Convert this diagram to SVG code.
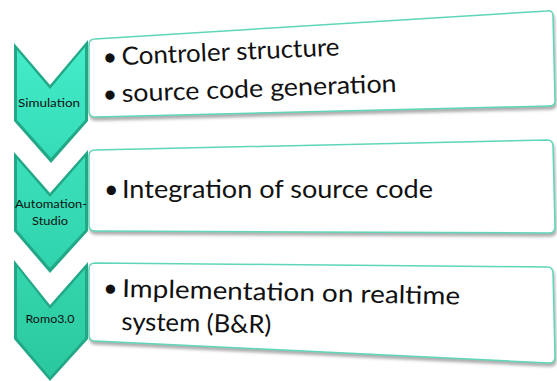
<svg xmlns="http://www.w3.org/2000/svg" width="557" height="381" viewBox="0 0 557 381">
<defs>
<filter id="sh" x="-5%" y="-10%" width="110%" height="130%">
<feDropShadow dx="1" dy="3" stdDeviation="1.5" flood-color="#777" flood-opacity="0.6"/>
</filter>
<linearGradient id="g1" x1="0" y1="0" x2="0" y2="1">
<stop offset="0" stop-color="#44ecc9"/><stop offset="1" stop-color="#36dcb8"/>
</linearGradient>
<linearGradient id="g2" x1="0" y1="0" x2="0" y2="1">
<stop offset="0" stop-color="#3be0bb"/><stop offset="1" stop-color="#30d3ac"/>
</linearGradient>
<linearGradient id="g3" x1="0" y1="0" x2="0" y2="1">
<stop offset="0" stop-color="#34d6ad"/><stop offset="1" stop-color="#2bc89f"/>
</linearGradient>
</defs>
<style>
.edge{fill:#22a887}
.box{fill:#ffffff;stroke:#5fd6b8;stroke-width:1.5;filter:url(#sh)}
.lbl{font-family:Lato,"Liberation Sans",sans-serif;font-size:12px;fill:#111;text-anchor:middle}
.txt{font-family:Lato,"Liberation Sans",sans-serif;font-size:25px;fill:#111}
</style>

<g id="step1">
<polygon class="edge" points="14,43 50,85 88,40 88,121 51,163 14,121"/>
<polygon fill="url(#g1)" points="17,50 50,89 85,47 85,120 51,158 17,120"/>
<path class="box" d="M95,39 L547,11 Q553,10 553,16 L555,101 Q555,106 549,106 L95,117 Q89,117 89,111 L89,45 Q89,39 95,39 Z"/>
<text class="lbl" x="49" y="107" textLength="62" lengthAdjust="spacingAndGlyphs">Simulation</text>
<g transform="rotate(-2.5 122 65)">
<text class="txt" x="103" y="65">•</text>
<text class="txt" x="122" y="65" textLength="218" lengthAdjust="spacingAndGlyphs">Controler structure</text>
</g>
<g transform="rotate(-2.1 122 102)">
<text class="txt" x="103" y="102">•</text>
<text class="txt" x="122" y="102" textLength="275" lengthAdjust="spacingAndGlyphs">source code generation</text>
</g>
</g>

<g id="step2">
<polygon class="edge" points="14,152 50,193 88,150 88,231 50,273 14,231"/>
<polygon fill="url(#g2)" points="17,159 50,197 85,157 85,230 50,268 17,230"/>
<path class="box" d="M95,150 L547,140 Q553,140 553,146 L555,227 Q555,233 549,233 L95,231 Q89,231 89,225 L89,156 Q89,150 95,150 Z"/>
<text class="lbl" x="51" y="208" textLength="72" lengthAdjust="spacingAndGlyphs">Automation-</text>
<text class="lbl" x="50" y="225" textLength="36" lengthAdjust="spacingAndGlyphs">Studio</text>
<text class="txt" x="104" y="198">•</text>
<text class="txt" x="122" y="198" textLength="311" lengthAdjust="spacingAndGlyphs">Integration of source code</text>
</g>

<g id="step3">
<polygon class="edge" points="14,260 50,305 88,262 88,339 50,381 14,339"/>
<polygon fill="url(#g3)" points="17,267 50,309 85,269 85,338 50,377 17,338"/>
<path class="box" d="M95,263 L547,267 Q553,267 553,273 L555,357 Q555,363 549,363 L95,341 Q89,341 89,335 L89,269 Q89,263 95,263 Z"/>
<text class="lbl" x="50" y="323" textLength="49" lengthAdjust="spacingAndGlyphs">Romo3.0</text>
<g transform="rotate(1.3 122 297)">
<text class="txt" x="103" y="297">•</text>
<text class="txt" x="122" y="297" textLength="338" lengthAdjust="spacingAndGlyphs">Implementation on realtime</text>
<text class="txt" x="122" y="330" textLength="150" lengthAdjust="spacingAndGlyphs">system (B&amp;R)</text>
</g>
</g>

<g id="connectors"></g>
</svg>
